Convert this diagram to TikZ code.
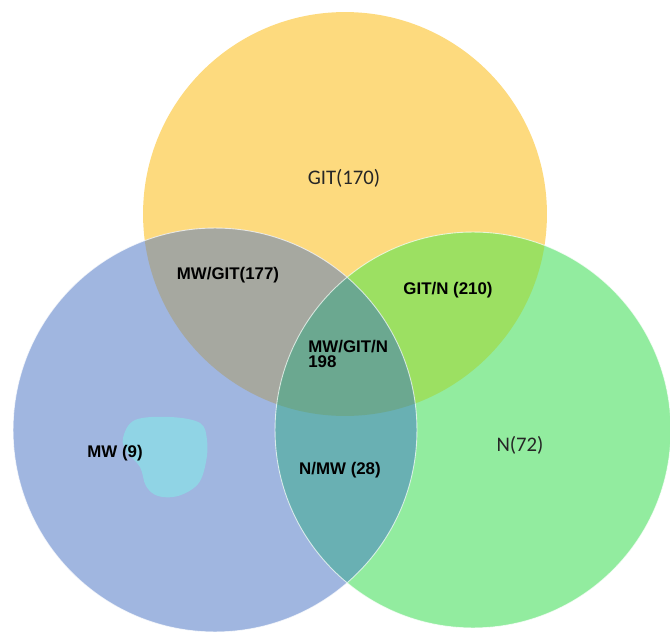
\documentclass[tikz,border=0pt]{standalone}
\usepackage{fontspec}
\setmainfont{Liberation Sans}
\newfontfamily\calfont{Carlito}
\definecolor{gitcol}{HTML}{FDDA7E}
\definecolor{mwcol}{HTML}{A0B6E0}
\definecolor{ncol}{HTML}{92EC9F}
\definecolor{mwgitcol}{HTML}{A6A8A0}
\definecolor{gitncol}{HTML}{9CE062}
\definecolor{nmwcol}{HTML}{69B0B3}
\definecolor{allcol}{HTML}{6BA890}
\definecolor{blobcol}{HTML}{90D4E5}
\tikzset{
  setlabel/.style={font=\calfont\fontsize{11.8}{13}\selectfont, text=black!85},
  partlabel/.style={font=\bfseries\fontsize{9.6}{8.6}\selectfont, align=left, inner sep=0pt}
}
\begin{document}
\begin{tikzpicture}[x=0.02cm,y=-0.02cm]
\useasboundingbox (0,0) rectangle (670,632);
\coordinate (git) at (345,214);
\coordinate (mw) at (215,430);
\coordinate (n) at (473,430);
% the three sets
\fill[gitcol] (git) circle[radius=4.04cm];
\fill[mwcol] (mw) circle[radius=4.04cm];
\fill[ncol] (n) circle[radius=3.96cm];
% overlaps
\begin{scope}
\clip (git) circle[radius=4.04cm];
\fill[mwgitcol] (mw) circle[radius=4.04cm];
\fill[gitncol] (n) circle[radius=3.96cm];
\end{scope}
\begin{scope}
\clip (mw) circle[radius=4.04cm];
\fill[nmwcol] (n) circle[radius=3.96cm];
\clip (git) circle[radius=4.04cm];
\fill[allcol] (n) circle[radius=3.96cm];
\end{scope}
\draw[white, line width=0.5pt, opacity=0.7] (mw) circle[radius=4.04cm] (n) circle[radius=3.96cm];
% MW blob
\fill[blobcol] plot[smooth cycle, tension=0.6] coordinates {(135,420) (170,417) (200,423) (207,440) (206,462) (198,484) (178,496) (158,496) (146,486) (140,467) (127,452) (123,438)};
% labels
\node[setlabel] (gitlbl) at (344,178) {GIT(170)};
\node[setlabel] (nlbl) at (520,445) {N(72)};
\node[partlabel] (mwgit) at (228,275) {MW/GIT(177)};
\node[partlabel] (gitn) at (448,290) {GIT/N (210)};
\node[partlabel, anchor=west] (all) at (308,354) {MW/GIT/N\\198};
\node[partlabel] (mwonly) at (115,453) {MW (9)};
\node[partlabel] (nmw) at (340,470) {N/MW (28)};
\end{tikzpicture}
\end{document}
